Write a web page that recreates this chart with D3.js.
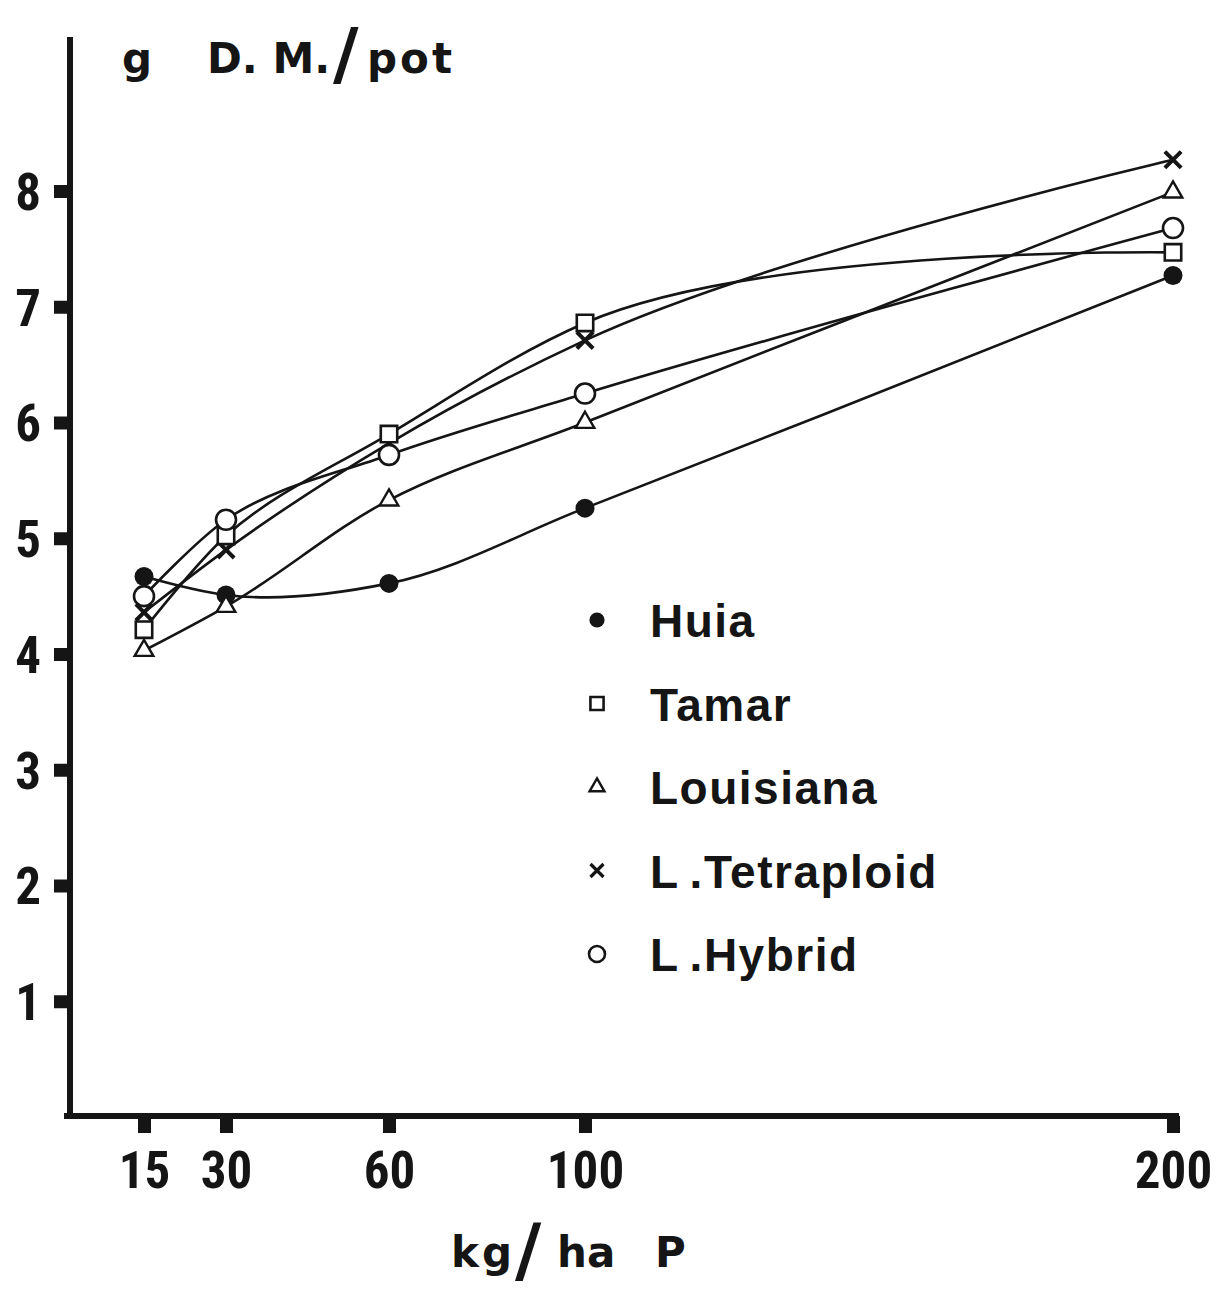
<!DOCTYPE html>
<html>
<head>
<meta charset="utf-8">
<script src="https://cdn.jsdelivr.net/npm/d3@7"></script>
<style>
  html, body { margin: 0; padding: 0; background: #ffffff; }
  svg { display: block; }
</style>
</head>
<body>
<svg id="chart" width="1217" height="1292"></svg>
<script>
// Phosphate rate (kg/ha P) and dry-matter yield (g D.M. per pot) per cultivar
const rates = [15, 30, 60, 100, 200];
const yTicks = [1, 2, 3, 4, 5, 6, 7, 8];
const cultivars = ["Huia", "Tamar", "Louisiana", "L.Tetraploid", "L.Hybrid"];
const huia       = [4.67, 4.51, 4.61, 5.26, 7.27];
const tamar      = [4.21, 5.02, 5.90, 6.86, 7.47];
const louisiana  = [4.03, 4.41, 5.33, 6.00, 7.99];
const tetraploid = [4.36, 4.90, 5.82, 6.71, 8.27];
const hybrid     = [4.50, 5.16, 5.72, 6.25, 7.68];

// ---- layout ----
const ink = "#151515";
const axisX = 70, axisY = 1116;
// the printed rate axis is spaced unevenly, so the scale is piecewise
const xTickPos = [144, 226, 389, 585, 1173];
const x = d3.scaleLinear().domain(rates).range(xTickPos);
const y = d3.scaleLinear().domain([0, 8]).range([1117, 191]);

const svg = d3.select("#chart");
svg.append("rect").attr("width", 1217).attr("height", 1292).attr("fill", "#fff");

const tickFont = "'Liberation Sans Narrow', 'Roboto Condensed', 'DejaVu Sans Condensed', sans-serif";

// ---- y axis ----
const gy = svg.append("g").attr("transform", `translate(${axisX},0)`)
  .call(d3.axisLeft(y).tickValues(yTicks).tickSize(16).tickPadding(13).tickFormat(d3.format("d")));
gy.select(".domain").remove();
gy.selectAll(".tick line").attr("stroke", ink).attr("stroke-width", 13);
gy.selectAll(".tick text")
  .attr("fill", ink).attr("dy", "0.36em")
  .style("font-family", tickFont).style("font-weight", "bold").style("font-size", "51px");

// ---- x axis ----
const gx = svg.append("g").attr("transform", `translate(0,${axisY})`)
  .call(d3.axisBottom(x).tickValues(rates).tickSize(17).tickPadding(19).tickFormat(d3.format("d")));
gx.select(".domain").remove();
gx.selectAll(".tick line").attr("stroke", ink).attr("stroke-width", 13);
gx.selectAll(".tick text")
  .attr("fill", ink)
  .style("font-family", tickFont).style("font-weight", "bold").style("font-size", "51px");

// axis rules
svg.append("line").attr("x1", axisX).attr("x2", axisX).attr("y1", 37).attr("y2", axisY + 3)
  .attr("stroke", ink).attr("stroke-width", 6);
svg.append("line").attr("x1", axisX - 6).attr("x2", x(200) + 6).attr("y1", axisY).attr("y2", axisY)
  .attr("stroke", ink).attr("stroke-width", 6);

// ---- axis titles ----
const titleFont = "'DejaVu Sans', sans-serif";
const yt = svg.append("g").attr("fill", ink)
  .style("font-family", titleFont).style("font-weight", "bold");
yt.append("text").attr("x", 122).attr("y", 73).style("font-size", "42px").text("g");
yt.append("text").attr("x", 207).attr("y", 73).style("font-size", "42px").text("D. M.");
yt.append("text").attr("x", 333).attr("y", 78).style("font-size", "70px").text("/");
yt.append("text").attr("x", 367).attr("y", 73).style("font-size", "42px")
  .style("letter-spacing", "3px").text("pot");

const xt = svg.append("g").attr("fill", ink)
  .style("font-family", titleFont).style("font-weight", "bold");
xt.append("text").attr("x", 451).attr("y", 1267).style("font-size", "42px")
  .style("letter-spacing", "3px").text("kg");
xt.append("text").attr("x", 515).attr("y", 1274).style("font-size", "72px").text("/");
xt.append("text").attr("x", 557).attr("y", 1267).style("font-size", "42px").text("ha");
xt.append("text").attr("x", 655).attr("y", 1267).style("font-size", "42px").text("P");

// ---- series ----
const series = [
  { name: cultivars[0], values: huia,       mark: "dot" },
  { name: cultivars[1], values: tamar,      mark: "square" },
  { name: cultivars[2], values: louisiana,  mark: "triangle" },
  { name: cultivars[3], values: tetraploid, mark: "cross" },
  { name: cultivars[4], values: hybrid,     mark: "ring" }
];

const line = d3.line()
  .x((d, i) => x(rates[i]))
  .y(d => y(d))
  .curve(d3.curveCatmullRom.alpha(1));

svg.append("g").selectAll("path")
  .data(series).join("path")
  .attr("d", s => line(s.values))
  .attr("fill", "none").attr("stroke", ink).attr("stroke-width", 2.6);

// marker glyphs; k scales them down for the key
function drawMark(g, mark, k) {
  if (mark === "dot") {
    g.append("circle").attr("r", 9.5 * k).attr("fill", ink);
  } else if (mark === "ring") {
    g.append("circle").attr("r", 10 * k).attr("fill", "#fff")
      .attr("stroke", ink).attr("stroke-width", 2.6);
  } else if (mark === "square") {
    g.append("path").attr("d", d3.symbol(d3.symbolSquare, 270 * k * k)())
      .attr("fill", "#fff").attr("stroke", ink).attr("stroke-width", 2.6);
  } else if (mark === "triangle") {
    g.append("path").attr("d", d3.symbol(d3.symbolTriangle, 150 * k * k)())
      .attr("fill", "#fff").attr("stroke", ink).attr("stroke-width", 2.4);
  } else if (mark === "cross") {
    g.append("path").attr("d", d3.symbol(d3.symbolX, 175 * k * k)())
      .attr("fill", "none").attr("stroke", ink).attr("stroke-width", 4 * Math.max(k, 0.8));
  }
}

const drawOrder = [0, 2, 3, 1, 4];
drawOrder.forEach(si => {
  const s = series[si];
  s.values.forEach((v, i) => {
    const g = svg.append("g").attr("transform", `translate(${x(rates[i])},${y(v)})`);
    drawMark(g, s.mark, 1);
  });
});

// ---- key ----
const key = svg.append("g");
series.forEach((s, i) => {
  const baseline = 637 + i * 83.5;
  const g = key.append("g").attr("transform", `translate(597,${baseline - 17})`);
  drawMark(g, s.mark, 0.8);
  const t = key.append("text")
    .attr("x", 650).attr("y", baseline)
    .attr("fill", ink)
    .style("font-family", "'Liberation Sans', Arial, sans-serif")
    .style("font-weight", "bold").style("font-size", "46px")
    .style("letter-spacing", "1.5px");
  // abbreviated names are set with a little air after the initial
  const m = s.name.match(/^(\w)\.(.*)$/);
  if (m) {
    t.append("tspan").text(m[1]);
    t.append("tspan").attr("dx", 10).text("." + m[2]);
  } else {
    t.text(s.name);
  }
});
</script>
</body>
</html>
